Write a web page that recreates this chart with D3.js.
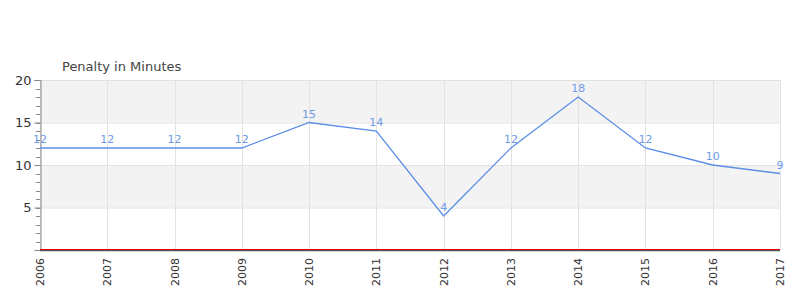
<!DOCTYPE html>
<html><head><meta charset="utf-8">
<script src="https://cdn.jsdelivr.net/npm/d3@7"></script>
<style>body{margin:0;background:#fff;font-family:"DejaVu Sans",sans-serif}</style>
</head><body><svg id="c" width="800" height="300"></svg>
<script>
const years = ["2006","2007","2008","2009","2010","2011","2012","2013","2014","2015","2016","2017"];
const penalty = [12,12,12,12,15,14,4,12,18,12,10,9];
const yTicks = [5,10,15,20];
const title = "Penalty in Minutes";

const svg = d3.select("#c");
const L=40,R=780,T=80,B=250;
const x = d3.scalePoint().domain(years).range([L,R]);
const y = d3.scaleLinear().domain([0,20]).range([B,T]);

// bands
const bands=[[15,20,"#f3f3f3"],[5,10,"#f3f3f3"]];
svg.selectAll("rect.band").data(bands).enter().append("rect")
  .attr("x",L).attr("width",R-L).attr("y",d=>y(d[1])).attr("height",d=>y(d[0])-y(d[1])).attr("fill",d=>d[2]);
// grid
svg.selectAll("line.hg").data(yTicks).enter().append("line")
  .attr("x1",L).attr("x2",R).attr("y1",d=>y(d)+0.5).attr("y2",d=>y(d)+0.5).attr("stroke","#e2e2e2");
svg.selectAll("line.vg").data(years).enter().append("line")
  .attr("x1",d=>Math.round(x(d))+0.5).attr("x2",d=>Math.round(x(d))+0.5).attr("y1",T).attr("y2",B).attr("stroke","#e2e2e2");

// y axis minor ticks
const minor = d3.range(1,21);
svg.selectAll("line.mn").data(minor).enter().append("line")
  .attr("x1",36).attr("x2",L).attr("y1",d=>Math.round(y(d))+0.5).attr("y2",d=>Math.round(y(d))+0.5).attr("stroke","#888");
const ya = svg.append("g").attr("transform",`translate(${L+0.5},0)`)
  .call(d3.axisLeft(y).tickValues(yTicks).tickSize(6).tickPadding(3));
ya.select(".domain").attr("stroke","#888");
ya.selectAll(".tick line").attr("stroke","#888");
ya.selectAll("text").attr("fill","#333").style("font-size","13px").style("font-family","DejaVu Sans");

// bottom axis lines
svg.append("line").attr("x1",L).attr("x2",R).attr("y1",B+0.5).attr("y2",B+0.5).attr("stroke","#555").attr("stroke-width",1.5);
svg.append("line").attr("x1",L).attr("x2",R).attr("y1",B-0.5).attr("y2",B-0.5).attr("stroke","#d00").attr("stroke-width",1);

// x labels
svg.selectAll("text.xl").data(years).enter().append("text")
  .attr("transform",d=>`translate(${x(d)+4},${258}) rotate(-90)`)
  .attr("text-anchor","end").attr("fill","#333").style("font-size","11px").text(d=>d);

// line
const pts = years.map((d,i)=>[x(d),y(penalty[i])]);
svg.append("path").attr("d",d3.line()(pts)).attr("fill","none").attr("stroke","#5b8ee6").attr("stroke-width",1.3);
svg.selectAll("text.vl").data(years).enter().append("text")
  .attr("x",d=>x(d)).attr("y",(d,i)=>y(penalty[i])-5).attr("text-anchor","middle")
  .attr("fill","#6f9be8").style("font-size","11px").text((d,i)=>penalty[i]);

svg.append("text").attr("x",62).attr("y",71).attr("fill","#444").style("font-size","13px").text(title);
</script></body></html>
